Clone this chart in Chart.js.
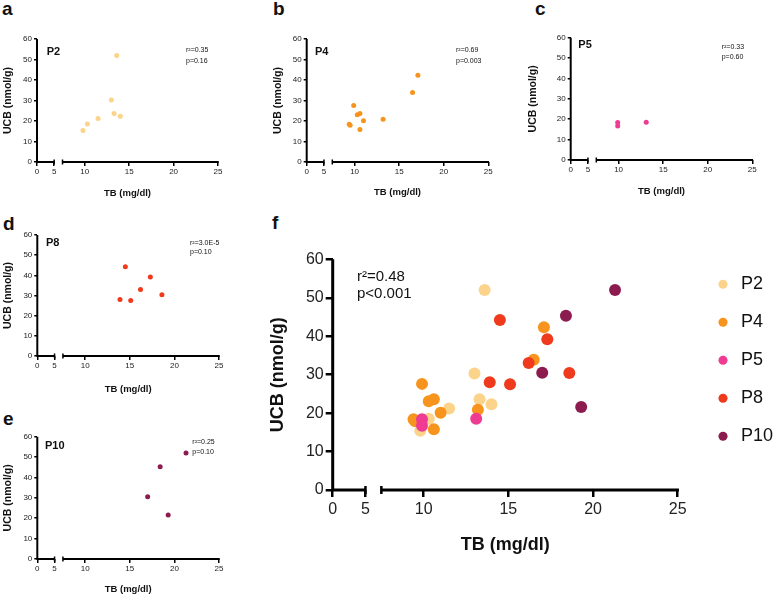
<!DOCTYPE html>
<html lang="en">
<head>
<meta charset="utf-8">
<title>UCB vs TB</title>
<script src="https://cdn.jsdelivr.net/npm/chart.js@4.4.1/dist/chart.umd.min.js"></script>
<style>
    body { margin: 0; width: 778px; height: 597px; position: relative; background: #fff; overflow: hidden; font-family: "Liberation Sans", Arial, sans-serif; }
    canvas { position: absolute; }
    .letra { position: absolute; font-weight: bold; font-size: 19px; line-height: 1; color: #111; }
</style>
</head>
<body>
<div class="letra" style="left:2px;top:-1px">a</div>
<div class="letra" style="left:273px;top:-1px">b</div>
<div class="letra" style="left:535px;top:-1px">c</div>
<div class="letra" style="left:3px;top:214px">d</div>
<div class="letra" style="left:3px;top:409px">e</div>
<div class="letra" style="left:272px;top:213px">f</div>

<canvas id="grafA" width="260" height="200" style="left:0px;top:0px"></canvas>
<canvas id="grafB" width="260" height="200" style="left:260px;top:0px"></canvas>
<canvas id="grafC" width="258" height="200" style="left:520px;top:0px"></canvas>
<canvas id="grafD" width="260" height="200" style="left:0px;top:200px"></canvas>
<canvas id="grafE" width="260" height="197" style="left:0px;top:400px"></canvas>
<canvas id="grafF" width="518" height="397" style="left:260px;top:200px"></canvas>

<script>
// valores: TB (mg/dl) e UCB (nmol/g) por paciente
const pacientes = ["P2", "P4", "P5", "P8", "P10"];
const cores = ["#fbd38a", "#f7941d", "#ef3b92", "#ef3a1d", "#8c1c4f"];

const tbP2 = [9.8, 10.3, 11.5, 13.0, 13.3, 14.0, 13.6];
const ucbP2 = [15.4, 18.5, 21.2, 30.3, 23.6, 22.3, 52.0];
const tbP4 = [9.4, 9.5, 9.9, 10.3, 10.6, 11.0, 10.6, 13.2, 16.5, 17.1];
const ucbP4 = [18.4, 17.9, 27.6, 23.1, 23.6, 20.1, 15.8, 20.9, 33.9, 42.3];
const tbP5 = [9.9, 9.9, 13.1];
const ucbP5 = [18.4, 16.7, 18.5];
const tbP8 = [13.9, 14.5, 15.1, 16.2, 17.3, 18.6];
const ucbP8 = [28.0, 44.2, 27.5, 33.0, 39.2, 30.4];
const tbP10 = [17.0, 18.4, 19.3, 21.3];
const ucbP10 = [30.5, 45.3, 21.6, 52.0];

const tbs = [tbP2, tbP4, tbP5, tbP8, tbP10];
const ucbs = [ucbP2, ucbP4, ucbP5, ucbP8, ucbP10];

const ticksX = [0, 5, 10, 15, 20, 25];
const ticksY = [0, 10, 20, 30, 40, 50, 60];

const r2Textos = ["r²=0.35", "r²=0.69", "r²=0.33", "r²=3.0E-5", "r²=0.25"];
const pTextos = ["p=0.16", "p=0.003", "p=0.60", "p=0.10", "p=0.10"];
const r2Total = "r²=0.48";
const pTotal = "p<0.001";

// eixo x quebrado: 0-5 comprimido, depois 7.5-25
const QUEBRA_INI = 5, QUEBRA_FIM = 7.5;
const FRAC_1 = 0.095, FRAC_2 = 0.141;

class EscalaQuebrada extends Chart.LinearScale {
    static id = 'quebrada';
    static defaults = Chart.LinearScale.defaults;
    fracao(v) {
        if (v <= QUEBRA_INI) return (v - this.min) / (QUEBRA_INI - this.min) * FRAC_1;
        return FRAC_2 + (v - QUEBRA_FIM) / (this.max - QUEBRA_FIM) * (1 - FRAC_2);
    }
    getPixelForValue(v) {
        if (v === null || v === undefined) return NaN;
        return this.getPixelForDecimal(this.fracao(v));
    }
    getValueForPixel(px) {
        const d = this.getDecimalForPixel(px);
        if (d <= FRAC_1) return this.min + d / FRAC_1 * (QUEBRA_INI - this.min);
        return QUEBRA_FIM + (d - FRAC_2) / (1 - FRAC_2) * (this.max - QUEBRA_FIM);
    }
}
Chart.register(EscalaQuebrada);
Chart.defaults.font.family = '"Liberation Sans", Arial, sans-serif';

// desenha as linhas dos eixos com a quebra
const eixos = {
    id: 'eixos',
    beforeDatasetsDraw(chart, args, o) {
        const { ctx, chartArea: a, scales: { x } } = chart;
        const p5 = x.getPixelForValue(QUEBRA_INI);
        const p75 = x.getPixelForValue(QUEBRA_FIM);
        ctx.save();
        ctx.strokeStyle = '#000';
        ctx.lineWidth = o.lw;
        ctx.beginPath();
        ctx.moveTo(a.left, a.top);
        ctx.lineTo(a.left, a.bottom + o.lw / 2);
        ctx.moveTo(a.left - o.lw / 2, a.bottom);
        ctx.lineTo(p5, a.bottom);
        ctx.moveTo(p75, a.bottom);
        ctx.lineTo(a.right + o.tw / 2, a.bottom);
        ctx.stroke();
        ctx.lineWidth = o.tw;
        ctx.beginPath();
        [p5, p75].forEach(p => {
            ctx.moveTo(p, a.bottom - o.cap);
            ctx.lineTo(p, a.bottom + o.cap);
        });
        ctx.stroke();
        ctx.restore();
    }
};

const notas = {
    id: 'notas',
    afterDraw(chart, args, o) {
        const { ctx, chartArea: a } = chart;
        ctx.save();
        ctx.fillStyle = '#111';
        ctx.textBaseline = 'middle';
        o.itens.forEach(it => {
            ctx.font = it.fonte;
            ctx.fillText(it.texto, a.left + it.dx, a.top + it.dy);
        });
        ctx.restore();
    }
};

// empurra a legenda para a direita, sem mexer na área do gráfico
const ajusteLegenda = {
    id: 'ajusteLegenda',
    afterLayout(chart, args, o) {
        const l = chart.legend;
        if (!l) return;
        l.left += o.dx; l.right += o.dx;
        l.top += o.dy; l.bottom += o.dy;
    }
};

const paineis = [
    { canvas: 'grafA', serie: 0, area: [37, 39, 218, 162], tituloX: 193, tituloY: 8, pos: [[9.7, 12.5], [149, 11], [149, 22.5]] },
    { canvas: 'grafB', serie: 1, area: [306.7, 39, 488.3, 162], tituloX: 192.7, tituloY: 277.7, pos: [[8.3, 12.7], [149.3, 11], [149.3, 22]] },
    { canvas: 'grafC', serie: 2, area: [570.7, 37.7, 752.3, 160], tituloX: 191.7, tituloY: 533, pos: [[7.6, 7.3], [151, 9], [151, 19]] },
    { canvas: 'grafD', serie: 3, area: [37.3, 235, 219, 356], tituloX: 389, tituloY: 8, pos: [[8.7, 8.3], [152.7, 8.3], [152.7, 16.7]] },
    { canvas: 'grafE', serie: 4, area: [37.3, 436.7, 219, 559], tituloX: 589, tituloY: 8, pos: [[7.7, 9], [155, 5], [155, 15]] }
];

function criarDataset(i, raio) {
    return {
        label: pacientes[i],
        data: tbs[i].map((x, k) => ({ x: x, y: ucbs[i][k] })),
        backgroundColor: cores[i],
        borderWidth: 0,
        pointBorderWidth: 0,
        pointRadius: raio,
        pointHoverRadius: raio,
        pointStyle: 'circle',
        order: -i
    };
}

function criarGrafico(p, grande) {
    const el = document.getElementById(p.canvas);
    const ox = parseFloat(el.style.left), oy = parseFloat(el.style.top);
    const w = el.width, h = el.height;
    const fTick = grande ? 16 : 8;
    const fTitX = grande ? 18 : 9.5;
    const fTitY = grande ? 18 : 10.5;
    const left = p.area[0] - ox, top = p.area[1] - oy, right = p.area[2] - ox, bottom = p.area[3] - oy;
    const larguraLegenda = 80;
    const series = grande ? [0, 1, 2, 3, 4] : [p.serie];

    let itens;
    if (grande) {
        itens = [
            { texto: r2Total, dx: p.pos[0][0], dy: p.pos[0][1], fonte: '15px "Liberation Sans", Arial' },
            { texto: pTotal, dx: p.pos[1][0], dy: p.pos[1][1], fonte: '15px "Liberation Sans", Arial' }
        ];
    } else {
        itens = [
            { texto: pacientes[p.serie], dx: p.pos[0][0], dy: p.pos[0][1], fonte: 'bold 11px "Liberation Sans", Arial' },
            { texto: r2Textos[p.serie], dx: p.pos[1][0], dy: p.pos[1][1], fonte: '7px "Liberation Sans", Arial' },
            { texto: pTextos[p.serie], dx: p.pos[2][0], dy: p.pos[2][1], fonte: '7px "Liberation Sans", Arial' }
        ];
    }

    return new Chart(el, {
        type: 'scatter',
        data: { datasets: series.map(i => criarDataset(i, grande ? 6 : 2.5)) },
        options: {
            responsive: false,
            animation: false,
            events: [],
            devicePixelRatio: 1,
            layout: {
                autoPadding: false,
                padding: { left: 0, top: top, right: grande ? w - right - larguraLegenda : w - right, bottom: 0 }
            },
            scales: {
                x: {
                    type: 'quebrada',
                    min: 0,
                    max: 25,
                    afterBuildTicks: s => { s.ticks = ticksX.map(v => ({ value: v })); },
                    afterFit: s => { s.height = h - bottom; },
                    border: { display: false },
                    grid: { drawOnChartArea: false, drawTicks: true, tickLength: grande ? 7 : 4, color: '#000', lineWidth: grande ? 2.5 : 1.5 },
                    ticks: { color: '#222', font: { size: fTick }, padding: grande ? 3 : 1, maxRotation: 0, autoSkip: false },
                    title: { display: true, text: 'TB (mg/dl)', color: '#111', font: { size: fTitX, weight: 'bold' }, padding: { top: 0, bottom: h - (p.tituloX - oy) - fTitX * 0.6 } }
                },
                y: {
                    min: 0,
                    max: 60,
                    afterBuildTicks: s => { s.ticks = ticksY.map(v => ({ value: v })); },
                    afterFit: s => { s.width = left; },
                    border: { display: false },
                    grid: { drawOnChartArea: false, drawTicks: true, tickLength: grande ? 7 : 3, color: '#000', lineWidth: grande ? 2.5 : 1.5 },
                    ticks: { color: '#222', font: { size: fTick }, padding: 2 },
                    title: { display: true, text: 'UCB (nmol/g)', color: '#111', font: { size: fTitY, weight: 'bold' }, padding: { top: (p.tituloY - ox) - fTitY * 0.6, bottom: 0 } }
                }
            },
            plugins: {
                tooltip: { enabled: false },
                legend: {
                    display: grande,
                    position: 'right',
                    align: 'start',
                    maxWidth: larguraLegenda,
                    labels: {
                        usePointStyle: true,
                        boxWidth: 18,
                        boxHeight: 6.4,
                        padding: 20,
                        color: '#111',
                        font: { size: 18 },
                        sort: (a, b) => a.datasetIndex - b.datasetIndex
                    }
                },
                eixos: { lw: grande ? 3 : 2, tw: grande ? 2.5 : 1.5, cap: grande ? 4 : 2.5 },
                notas: { itens: itens },
                ajusteLegenda: { dx: 16.3, dy: -4 }
            }
        },
        plugins: grande ? [eixos, notas, ajusteLegenda] : [eixos, notas]
    });
}

paineis.forEach(p => criarGrafico(p, false));
criarGrafico({ canvas: 'grafF', area: [332.7, 259.3, 677.7, 490], tituloX: 545, tituloY: 278.3, pos: [[24.3, 17.7], [24.3, 34.7]] }, true);
</script>
</body>
</html>
